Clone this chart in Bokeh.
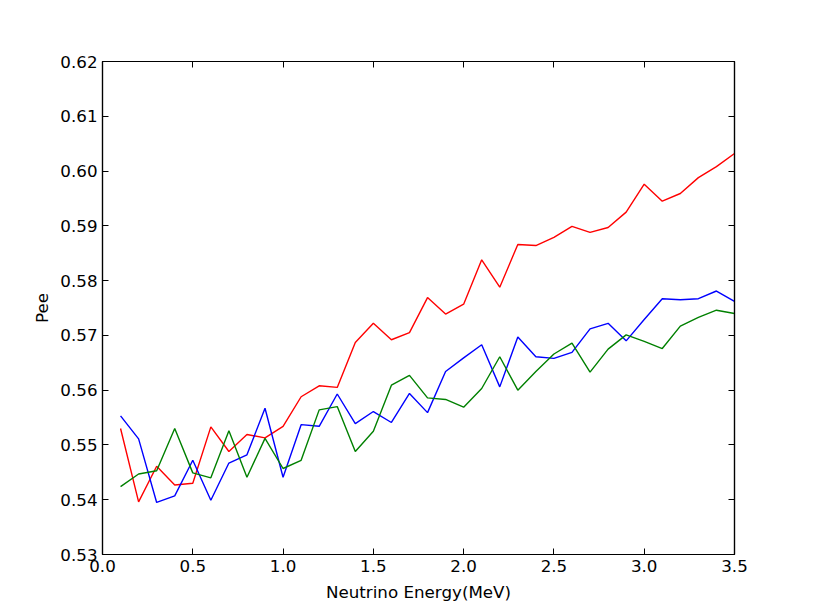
from bokeh.plotting import figure
from bokeh.models import LinearAxis, FixedTicker, PrintfTickFormatter, Range1d
from bokeh.embed import file_html
from bokeh.resources import INLINE

energy = [round(0.1 * i, 1) for i in range(1, 36)]

pee_red = [0.5530, 0.5396, 0.5461, 0.5427, 0.5430, 0.5533, 0.5488, 0.5519, 0.5513, 0.5534,
           0.5588, 0.5608, 0.5605, 0.5687, 0.5722, 0.5692, 0.5705, 0.5769, 0.5739, 0.5757,
           0.5838, 0.5788, 0.5866, 0.5864, 0.5879, 0.5899, 0.5888, 0.5897, 0.5925, 0.5976,
           0.5945, 0.5959, 0.5988, 0.6008, 0.6032]
pee_blue = [0.5553, 0.5511, 0.5395, 0.5407, 0.5472, 0.5399, 0.5467, 0.5482, 0.5567, 0.5441,
            0.5537, 0.5534, 0.5593, 0.5539, 0.5561, 0.5541, 0.5594, 0.5559, 0.5634, 0.5659,
            0.5683, 0.5606, 0.5697, 0.5661, 0.5658, 0.5669, 0.5712, 0.5722, 0.5690, 0.5729,
            0.5767, 0.5765, 0.5767, 0.5781, 0.5762]
pee_green = [0.5424, 0.5447, 0.5453, 0.5530, 0.5449, 0.5440, 0.5526, 0.5441, 0.5512, 0.5457,
             0.5472, 0.5564, 0.5570, 0.5488, 0.5525, 0.5609, 0.5627, 0.5586, 0.5583, 0.5569,
             0.5603, 0.5661, 0.5600, 0.5634, 0.5666, 0.5686, 0.5633, 0.5675, 0.5701, 0.5689,
             0.5676, 0.5717, 0.5733, 0.5746, 0.5740]

x_ticks = [0.0, 0.5, 1.0, 1.5, 2.0, 2.5, 3.0, 3.5]
y_ticks = [0.53, 0.54, 0.55, 0.56, 0.57, 0.58, 0.59, 0.60, 0.61, 0.62]

FONT = "DejaVu Sans"
FS = "16.7px"

p = figure(width=800, height=607, output_backend="svg", toolbar_location=None,
           x_range=Range1d(0.0, 3.5), y_range=Range1d(0.53, 0.62),
           x_axis_location=None, y_axis_location=None,
           min_border_left=102, min_border_right=66, min_border_top=61, min_border_bottom=53)
p.grid.visible = False
p.outline_line_color = "black"
p.outline_line_width = 1.2
p.background_fill_color = "white"
p.border_fill_color = "white"

def make_axis(ticks, fmt, label=None, show_labels=True, label_standoff=8):
    ax = LinearAxis(ticker=FixedTicker(ticks=ticks), formatter=PrintfTickFormatter(format=fmt))
    ax.major_tick_in = 6
    ax.major_tick_out = 0
    ax.minor_tick_line_color = None
    ax.axis_line_color = "black"
    ax.axis_line_width = 1.2
    ax.major_tick_line_width = 1
    ax.major_label_text_font = FONT
    ax.major_label_text_font_size = FS
    ax.major_label_text_color = "black"
    ax.major_label_standoff = 5
    if not show_labels:
        ax.major_label_text_font_size = "0px"
        ax.major_label_text_alpha = 0
    if label:
        ax.axis_label = label
        ax.axis_label_text_font = FONT
        ax.axis_label_text_font_size = FS
        ax.axis_label_text_font_style = "normal"
        ax.axis_label_text_color = "black"
        ax.axis_label_standoff = label_standoff
    return ax

p.add_layout(make_axis(x_ticks, "%.1f", "Neutrino Energy(MeV)", label_standoff=7), "below")
p.add_layout(make_axis(y_ticks, "%.2f", "Pee", label_standoff=5), "left")
p.add_layout(make_axis(x_ticks, "%.1f", show_labels=False), "above")
p.add_layout(make_axis(y_ticks, "%.2f", show_labels=False), "right")

p.line(energy, pee_red, line_color="#ff0000", line_width=1.4)
p.line(energy, pee_blue, line_color="#0000ff", line_width=1.4)
p.line(energy, pee_green, line_color="#008000", line_width=1.4)

open("out.html", "w").write(file_html(p, INLINE))
